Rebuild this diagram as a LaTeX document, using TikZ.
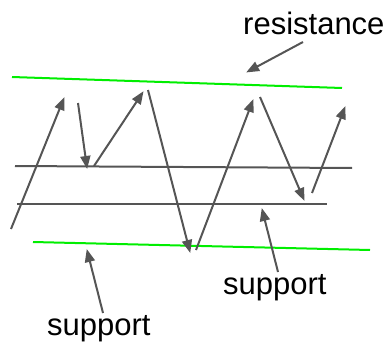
\documentclass[tikz,border=0pt]{standalone}
\usepackage{fontspec}
\setmainfont{Liberation Sans}
\usetikzlibrary{arrows.meta}
\definecolor{lgreen}{HTML}{00EE00}
\definecolor{dgray}{HTML}{555555}
\tikzset{
  level/.style={line width=2pt},
  greenline/.style={level, draw=lgreen},
  grayline/.style={level, draw=dgray},
  arr/.style={line width=2pt, draw=dgray, -{Triangle[length=13pt,width=10pt]}, shorten >=-1pt},
  lbl/.style={inner sep=0pt, anchor=base west, font=\fontsize{31}{31}\selectfont, text=black}
}
\begin{document}
\begin{tikzpicture}[x=1pt,y=-1pt]
\useasboundingbox (0,0) rectangle (390,342);
% levels
\coordinate (r1) at (12,77);  \coordinate (r2) at (342,88);
\coordinate (s1) at (33,242); \coordinate (s2) at (370,250);
\coordinate (g1) at (15,166); \coordinate (g2) at (352,168);
\coordinate (h1) at (17,204); \coordinate (h2) at (327,204);
\draw[greenline] (r1) -- (r2);
\draw[greenline] (s1) -- (s2);
\draw[grayline] (g1) -- (g2);
\draw[grayline] (h1) -- (h2);
% price path
\coordinate (a0) at (11,229);  \coordinate (a1) at (64,98);
\coordinate (b0) at (78,103);  \coordinate (b1) at (87,168);
\coordinate (c0) at (94,166);  \coordinate (c1) at (143,92);
\coordinate (d0) at (148,90);  \coordinate (d1) at (190,252);
\coordinate (e0) at (196,250); \coordinate (e1) at (253,100);
\coordinate (f0) at (260,97);  \coordinate (f1) at (304,200);
\coordinate (k0) at (312,193); \coordinate (k1) at (345,107);
\draw[arr] (a0) -- (a1);
\draw[arr] (b0) -- (b1);
\draw[arr] (c0) -- (c1);
\draw[arr] (d0) -- (d1);
\draw[arr] (e0) -- (e1);
\draw[arr] (f0) -- (f1);
\draw[arr] (k0) -- (k1);
% labels
\node[lbl] (res) at (243,35) {resistance};
\node[lbl] (sup1) at (223,294) {support};
\node[lbl] (sup2) at (47,335) {support};
\coordinate (rt) at (303,42);  \coordinate (rh) at (247,72);
\coordinate (st) at (278,272); \coordinate (sh) at (262,209);
\coordinate (ut) at (103,313); \coordinate (uh) at (87,250);
\draw[arr] (rt) -- (rh);
\draw[arr] (st) -- (sh);
\draw[arr] (ut) -- (uh);
\end{tikzpicture}
\end{document}
